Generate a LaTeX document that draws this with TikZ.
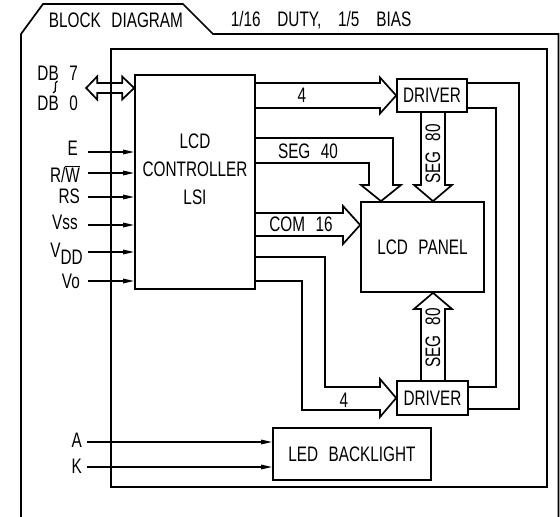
\documentclass[tikz,border=0pt]{standalone}
\usepackage{fontspec}
\setmainfont{Liberation Sans}[FakeStretch=0.73]
\usetikzlibrary{arrows.meta}
\newcommand{\wsp}{\hspace{.5em}}

\tikzset{
  blk/.style={draw, line width=1.7pt, inner sep=0pt},
  bus/.style={line width=1.7pt, line join=miter},
  sig/.style={line width=1.5pt, -{Triangle[length=11pt,width=4.5pt]}},
  lbl/.style={inner sep=0pt},
}

\begin{document}
\begin{tikzpicture}[x=1pt,y=-1pt,font=\fontsize{21}{28}\selectfont]
\useasboundingbox (0,0) rectangle (560,517);
% frames and tab
\draw[line width=1.7pt] (21,517) -- (21,34) -- (43,4) -- (183,4) -- (213,34) -- (558.5,34) -- (558.5,517);
\node[lbl] (title) at (116,20) {BLOCK\wsp DIAGRAM};
\node[lbl] (duty) at (321,20) {1/16\hspace{.8em}DUTY,\hspace{.8em}1/5\hspace{.8em}BIAS};
\draw[line width=1.7pt] (111,49) rectangle (547,487);

% blocks
\node[blk, minimum width=120pt, minimum height=214pt] (ctrl) at (195,182) {};
\node[lbl, align=center] (ctrltxt) at (195,169) {LCD\\CONTROLLER\\LSI};
\node[blk, minimum width=70pt, minimum height=33pt] (drvT) at (432,95.5) {DRIVER};
\node[blk, minimum width=71pt, minimum height=34pt] (drvB) at (432.5,398) {DRIVER};
\node[blk, minimum width=123pt, minimum height=90pt] (panel) at (422.5,247) {LCD\wsp PANEL};
\node[blk, minimum width=158pt, minimum height=52pt] (led) at (352,454) {LED\wsp BACKLIGHT};

% data bus
\node[lbl, anchor=east] (db7) at (78,73) {DB\wsp 7};
\draw[line width=1.3pt] (57.5,81) .. controls (53,81) and (58,93) .. (53,93);
\node[lbl, anchor=east] (db0) at (78,103) {DB\wsp 0};
\draw[bus] (ctrl.west |- 0,88) -- ++(-12,-11.5) -- ++(0,6.5) -- ++(-25,0) -- ++(0,-6.5)
  -- ++(-11,11.5) -- ++(11,11.5) -- ++(0,-6.5) -- ++(25,0) -- ++(0,6.5) -- cycle;

% control inputs
\coordinate (iE) at (88,152);
\coordinate (iRW) at (88,173);
\coordinate (iRS) at (88,197);
\coordinate (iVss) at (88,225);
\coordinate (iVdd) at (88,252);
\coordinate (iVo) at (88,281);
\node[lbl, anchor=base east] (lE) at (78,155) {E};
\node[lbl, anchor=base east] (lRW) at (80,182) {R/$\overline{\mbox{W}}$};
\node[lbl, anchor=base east] (lRS) at (80,203) {RS};
\node[lbl, anchor=base east] (lVss) at (78,229) {Vss};
\node[lbl, anchor=base east] (lVdd) at (83,257) {V\raisebox{-7pt}{DD}};
\node[lbl, anchor=base east] (lVo) at (80,288) {Vo};
\draw[sig] (iE) -- (iE -| ctrl.west);
\draw[sig] (iRW) -- (iRW -| ctrl.west);
\draw[sig] (iRS) -- (iRS -| ctrl.west);
\draw[sig] (iVss) -- (iVss -| ctrl.west);
\draw[sig] (iVdd) -- (iVdd -| ctrl.west);
\draw[sig] (iVo) -- (iVo -| ctrl.west);

% buses to drivers and panel
\draw[bus] (ctrl.east |- 0,83) -- (380,83) -- (380,77.5) -- (drvT.west) -- (380,113.5) -- (380,108) -- (ctrl.east |- 0,108);
\node[lbl] (n4T) at (302,95) {4};
\draw[bus] (ctrl.east |- 0,138) -- (393,138) -- (393,185) -- (401,185) -- (381,0 |- panel.north)
  -- (361,185) -- (369,185) -- (369,163) -- (ctrl.east |- 0,163);
\node[lbl] (seg40) at (308,151) {SEG\wsp 40};
\draw[bus] (ctrl.east |- 0,213) -- (343,213) -- (343,206) -- (panel.west |- 0,225) -- (343,244) -- (343,236) -- (ctrl.east |- 0,236);
\node[lbl] (com16) at (301,224.5) {COM\wsp 16};
\draw[bus] (ctrl.east |- 0,257) -- (325,257) -- (325,387) -- (380,387) -- (380,379) -- (drvB.west)
  -- (380,417) -- (380,410) -- (302,410) -- (302,281) -- (ctrl.east |- 0,281);
\node[lbl] (n4B) at (344,400) {4};

% segment buses
\draw[bus] (421,0 |- drvT.south) -- (421,185) -- (414,185) -- (433,0 |- panel.north) -- (452,185) -- (445,185) -- (445,0 |- drvT.south);
\node[lbl, rotate=90] (seg80T) at (433,154) {SEG\wsp 80};
\draw[bus] (421,0 |- drvB.north) -- (421,309) -- (414,309) -- (433,0 |- panel.south) -- (452,309) -- (445,309) -- (445,0 |- drvB.north);
\node[lbl, rotate=90] (seg80B) at (433,338) {SEG\wsp 80};

% driver returns
\draw[bus] (drvT.east |- 0,83) -- (519,83) -- (519,409) -- (drvB.east |- 0,409);
\draw[bus] (drvT.east |- 0,108) -- (496,108) -- (496,387) -- (drvB.east |- 0,387);

% backlight
\coordinate (iA) at (87,442);
\coordinate (iK) at (87,467);
\node[lbl, anchor=base east] (lA) at (82,447) {A};
\node[lbl, anchor=base east] (lK) at (82,473) {K};
\draw[sig] (iA) -- (iA -| led.west);
\draw[sig] (iK) -- (iK -| led.west);
\end{tikzpicture}
\end{document}
